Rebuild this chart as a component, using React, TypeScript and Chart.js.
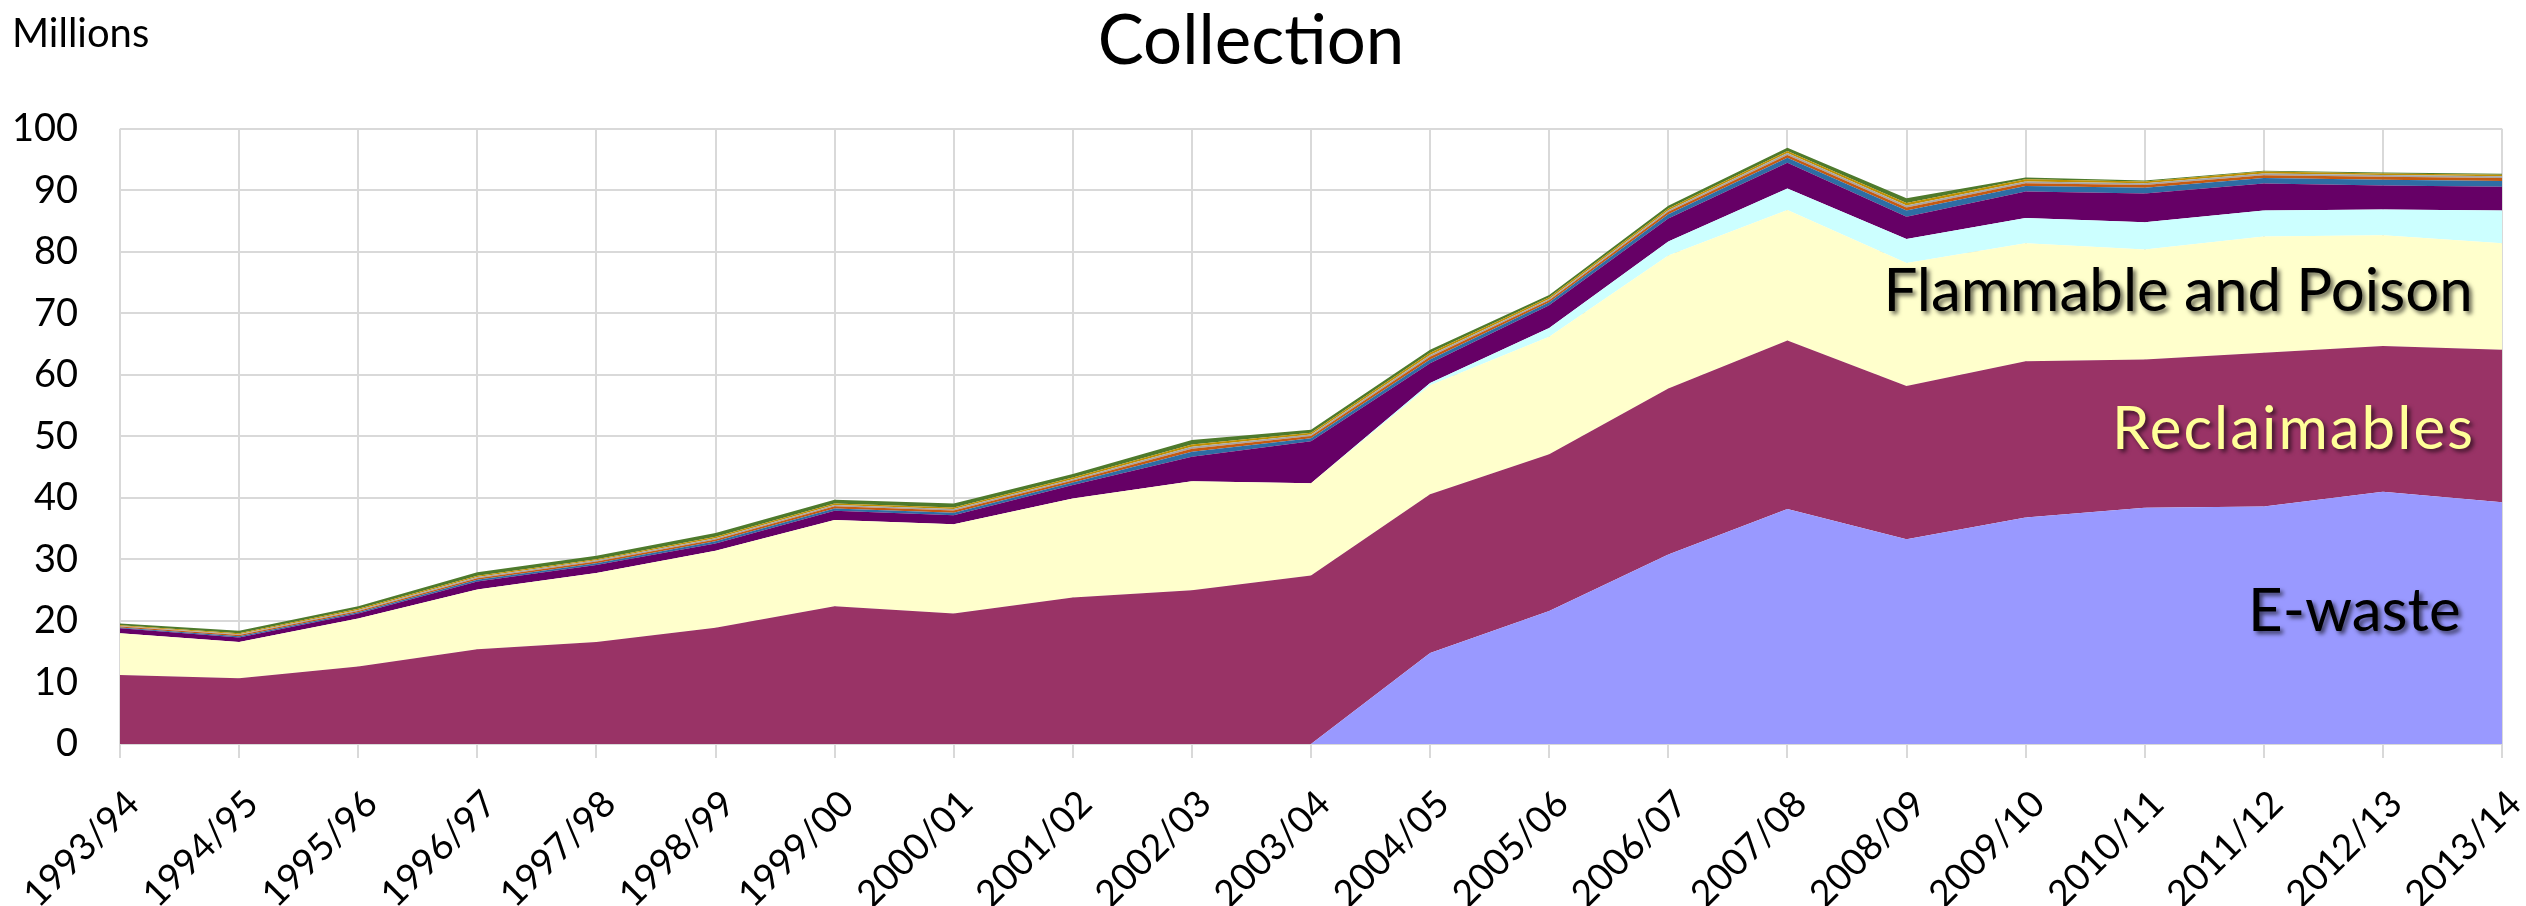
import React, { useEffect, useRef } from "react";
import { Chart, registerables } from "chart.js";

Chart.register(...registerables);

const years = [
  "1993/94", "1994/95", "1995/96", "1996/97", "1997/98", "1998/99", "1999/00",
  "2000/01", "2001/02", "2002/03", "2003/04", "2004/05", "2005/06", "2006/07",
  "2007/08", "2008/09", "2009/10", "2010/11", "2011/12", "2012/13", "2013/14",
];

// Values in millions, stacked from bottom to top
const eWaste = [0, 0, 0, 0, 0, 0, 0, 0, 0, 0, 0, 14.8, 21.6, 30.8, 38.2, 33.3, 36.8, 38.4, 38.6, 41.0, 39.3];
const reclaimables = [11.2, 10.7, 12.6, 15.4, 16.6, 18.9, 22.4, 21.2, 23.8, 25.0, 27.4, 25.8, 25.5, 27.0, 27.4, 24.9, 25.4, 24.1, 25.0, 23.7, 24.8];
const flammablePoison = [6.8, 5.9, 7.8, 9.7, 11.2, 12.5, 14.0, 14.5, 16.1, 17.7, 15.0, 17.7, 19.1, 21.6, 21.2, 20.0, 19.2, 17.9, 18.9, 18.0, 17.3];
const cyanSeries = [0, 0, 0, 0, 0, 0, 0, 0, 0, 0, 0, 0.4, 1.4, 2.3, 3.5, 3.9, 4.1, 4.4, 4.2, 4.2, 5.3];
const purpleSeries = [0.8, 0.7, 0.8, 1.3, 1.3, 1.2, 1.5, 1.5, 2.2, 4.0, 6.8, 3.2, 3.7, 3.7, 4.2, 3.6, 4.3, 4.7, 4.4, 3.9, 3.9];
const blueSeries = [0.15, 0.2, 0.2, 0.3, 0.3, 0.35, 0.4, 0.4, 0.4, 0.8, 0.5, 0.6, 0.5, 0.7, 0.8, 1.0, 0.9, 0.9, 0.9, 0.9, 0.9];
const orangeSeries = [0.15, 0.2, 0.2, 0.25, 0.25, 0.3, 0.35, 0.35, 0.35, 0.5, 0.35, 0.45, 0.35, 0.4, 0.45, 0.5, 0.45, 0.45, 0.45, 0.5, 0.5];
const greySeries = [0.1, 0.15, 0.2, 0.2, 0.2, 0.2, 0.2, 0.25, 0.2, 0.3, 0.25, 0.3, 0.2, 0.25, 0.3, 0.35, 0.3, 0.3, 0.3, 0.3, 0.3];
const goldSeries = [0.1, 0.15, 0.2, 0.2, 0.2, 0.25, 0.25, 0.25, 0.25, 0.4, 0.3, 0.35, 0.25, 0.3, 0.35, 0.4, 0.35, 0.3, 0.3, 0.25, 0.25];
const greenSeries = [0.3, 0.4, 0.4, 0.55, 0.55, 0.6, 0.6, 0.65, 0.6, 0.7, 0.5, 0.5, 0.4, 0.45, 0.5, 0.75, 0.3, 0.15, 0.15, 0.15, 0.15];

const yTicks = [0, 10, 20, 30, 40, 50, 60, 70, 80, 90, 100];

const seriesList = [
  { name: "E-waste", data: eWaste, color: "#9999FF" },
  { name: "Reclaimables", data: reclaimables, color: "#993366" },
  { name: "Flammable and Poison", data: flammablePoison, color: "#FFFFCC" },
  { name: "Series 4", data: cyanSeries, color: "#CCFFFF" },
  { name: "Series 5", data: purpleSeries, color: "#660066" },
  { name: "Series 6", data: blueSeries, color: "#2E6DA4" },
  { name: "Series 7", data: orangeSeries, color: "#C55A11" },
  { name: "Series 8", data: greySeries, color: "#A5A5A5" },
  { name: "Series 9", data: goldSeries, color: "#BF9000" },
  { name: "Series 10", data: greenSeries, color: "#4E7A2C" },
];

// In-chart labels: [text, category index, value, colour, letter spacing]
const areaLabels: [string, number, number, string, number][] = [
  ["Flammable and Poison", 17.28, 70.4, "#000000", 0],
  ["Reclaimables", 18.25, 48.0, "#FFFF99", 2],
  ["E-waste", 18.76, 18.4, "#000000", 0],
];

const FONT = "Lato, 'Open Sans', sans-serif";

const labelPlugin = {
  id: "areaLabels",
  afterDatasetsDraw(chart: any) {
    const ctx = chart.ctx;
    const xs = chart.scales.x;
    const ys = chart.scales.y;
    ctx.save();
    ctx.font = `60px ${FONT}`;
    ctx.textAlign = "center";
    ctx.textBaseline = "alphabetic";
    for (const [text, xi, yv, color, spacing] of areaLabels) {
      (ctx as any).letterSpacing = `${spacing}px`;
      ctx.shadowColor = "rgba(0,0,0,0.6)";
      ctx.shadowOffsetX = 3;
      ctx.shadowOffsetY = 3;
      ctx.shadowBlur = 4;
      ctx.fillStyle = color;
      ctx.fillText(text, xs.getPixelForValue(xi), ys.getPixelForValue(yv));
    }
    ctx.restore();
  },
  afterDraw(chart: any) {
    const ctx = chart.ctx;
    ctx.save();
    ctx.font = `40px ${FONT}`;
    ctx.fillStyle = "#000000";
    ctx.textAlign = "left";
    ctx.textBaseline = "alphabetic";
    ctx.fillText("Millions", 12, 47);
    ctx.restore();
  },
};

export default function App() {
  const ref = useRef<HTMLCanvasElement | null>(null);
  useEffect(() => {
    if (!ref.current) return;
    const chart = new Chart(ref.current, {
      type: "line",
      data: {
        labels: years,
        datasets: seriesList.map((s, i) => ({
          label: s.name,
          data: s.data,
          backgroundColor: s.color,
          borderColor: s.color,
          borderWidth: 0,
          pointRadius: 0,
          tension: 0,
          fill: i === 0 ? "origin" : "-1",
        })),
      },
      options: {
        animation: false,
        responsive: false,
        maintainAspectRatio: false,
        layout: { padding: { left: 0, right: 24, top: 0, bottom: 0 } },
        plugins: {
          legend: { display: false },
          tooltip: { enabled: false },
          title: {
            display: true,
            text: "Collection",
            color: "#000000",
            font: { family: FONT, size: 69, weight: "normal", lineHeight: 1.2 },
            padding: { top: 0, bottom: 46 },
          },
        },
        scales: {
          x: {
            offset: false,
            grid: { color: "#D9D9D9", lineWidth: 2, tickLength: 14, drawTicks: true },
            border: { color: "#D9D9D9", width: 2 },
            ticks: {
              color: "#000000",
              font: { family: FONT, size: 37 },
              maxRotation: 45,
              minRotation: 45,
              autoSkip: false,
              padding: 24,
              labelOffset: 13,
            },
            afterFit(scale: any) {
              scale.height = 162;
              scale.paddingLeft = 0;
              scale.paddingRight = 0;
            },
          },
          y: {
            stacked: true,
            min: 0,
            max: 100,
            afterBuildTicks(scale: any) {
              scale.ticks = yTicks.map((v) => ({ value: v }));
            },
            grid: { color: "#D9D9D9", lineWidth: 2, drawTicks: false, tickLength: 0 },
            border: { display: false },
            ticks: {
              color: "#000000",
              font: { family: FONT, size: 38 },
              padding: 42,
            },
            afterFit(scale: any) {
              scale.width = 120;
            },
          },
        },
      },
      plugins: [labelPlugin],
    });
    return () => chart.destroy();
  }, []);
  return (
    <div style={{ position: "absolute", left: 0, top: 0, width: 2526, height: 906, background: "#ffffff" }}>
      <canvas ref={ref} width={2526} height={906} style={{ width: 2526, height: 906, display: "block" }} />
    </div>
  );
}
